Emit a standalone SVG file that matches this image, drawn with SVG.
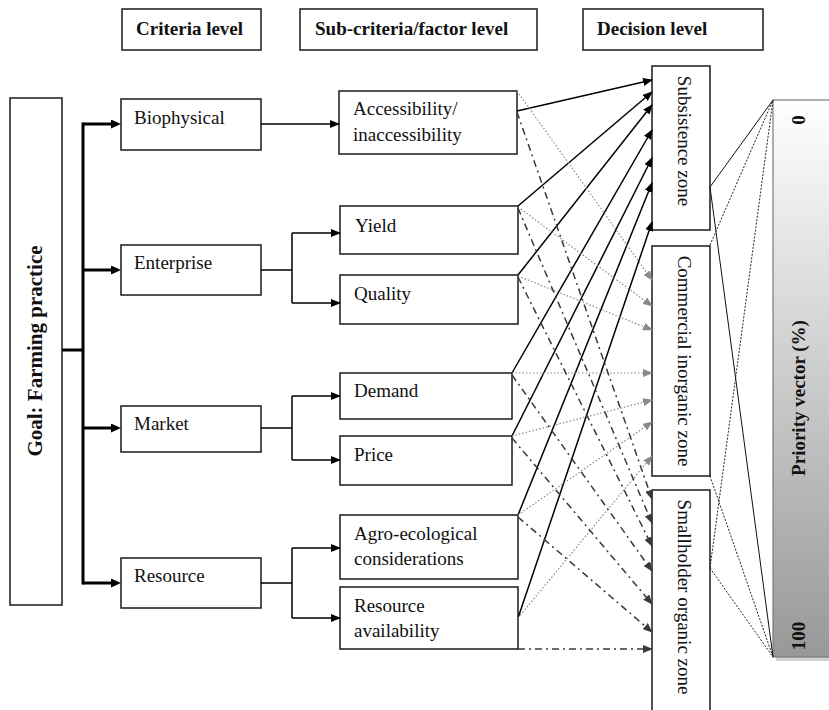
<svg xmlns="http://www.w3.org/2000/svg" width="829" height="710" viewBox="0 0 829 710">
<defs>
<style>
.box{fill:#fff;stroke:#1a1a1a;stroke-width:1.5}
.t{font-family:"Liberation Serif","Times New Roman",serif;font-size:19px;fill:#111}
.b{font-weight:bold}
.thick{stroke:#000;stroke-width:3;fill:none}
.thin{stroke:#000;stroke-width:1.5;fill:none}
.sol{stroke:#000;stroke-width:1.5;fill:none}
.dot{stroke:#8a8a8a;stroke-width:1.2;stroke-dasharray:1.5 2;fill:none}
.dd{stroke:#3a3a3a;stroke-width:1.5;stroke-dasharray:7 4 2 4;fill:none}
.pv{stroke:#111;stroke-width:1;fill:none}
.pvd{stroke:#222;stroke-width:1;stroke-dasharray:2 1.5;fill:none}
</style>
<marker id="akt" viewBox="0 0 10 9" refX="0" refY="4.5" markerWidth="10" markerHeight="9" orient="auto" markerUnits="userSpaceOnUse"><path d="M0,0L10,4.5L0,9z" fill="#000"/></marker>
<marker id="ak" viewBox="0 0 10 8" refX="9" refY="4" markerWidth="10" markerHeight="8" orient="auto" markerUnits="userSpaceOnUse"><path d="M0,0L10,4L0,8z" fill="#000"/></marker>
<marker id="ag" viewBox="0 0 10 8" refX="9" refY="4" markerWidth="10" markerHeight="8" orient="auto" markerUnits="userSpaceOnUse"><path d="M0,0L10,4L0,8z" fill="#8a8a8a"/></marker>
<marker id="ad" viewBox="0 0 10 8" refX="9" refY="4" markerWidth="10" markerHeight="8" orient="auto" markerUnits="userSpaceOnUse"><path d="M0,0L10,4L0,8z" fill="#3a3a3a"/></marker>
<linearGradient id="pvg" x1="0" y1="0" x2="0" y2="1"><stop offset="0" stop-color="#ffffff"/><stop offset="1" stop-color="#989898"/></linearGradient>
</defs>
<rect width="829" height="710" fill="#fff"/>

<g id="headers">
<g id="h-criteria"><rect class="box" x="122" y="9" width="139" height="41"/><text class="t b" x="136" y="35">Criteria level</text></g>
<g id="h-sub"><rect class="box" x="300" y="9" width="237" height="41"/><text class="t b" x="315" y="35">Sub-criteria/factor level</text></g>
<g id="h-decision"><rect class="box" x="583" y="9" width="180" height="41"/><text class="t b" x="597" y="35">Decision level</text></g>
</g>

<g id="goal"><rect class="box" x="10" y="98" width="52" height="507"/><text class="t b" font-size="21" style="font-size:21px" text-anchor="middle" transform="translate(42,351) rotate(-90)">Goal: Farming practice</text></g>

<g id="biophysical"><rect class="box" x="121" y="99" width="140" height="51"/><text class="t" x="134" y="124">Biophysical</text></g>
<g id="enterprise"><rect class="box" x="121" y="245" width="140" height="50"/><text class="t" x="134" y="269">Enterprise</text></g>
<g id="market"><rect class="box" x="121" y="406" width="140" height="46"/><text class="t" x="134" y="430">Market</text></g>
<g id="resource"><rect class="box" x="121" y="558" width="140" height="50"/><text class="t" x="134" y="582">Resource</text></g>

<g id="accessibility"><rect class="box" x="339" y="91" width="178" height="63"/><text class="t" x="353" y="115">Accessibility/</text><text class="t" x="353" y="141">inaccessibility</text></g>
<g id="yield"><rect class="box" x="340" y="206" width="178" height="48"/><text class="t" x="355" y="232">Yield</text></g>
<g id="quality"><rect class="box" x="340" y="275" width="178" height="49"/><text class="t" x="354" y="300">Quality</text></g>
<g id="demand"><rect class="box" x="340" y="373" width="172" height="46"/><text class="t" x="354" y="397">Demand</text></g>
<g id="price"><rect class="box" x="340" y="436" width="172" height="49"/><text class="t" x="354" y="461">Price</text></g>
<g id="agro"><rect class="box" x="340" y="515" width="178" height="64"/><text class="t" x="354" y="540">Agro-ecological</text><text class="t" x="354" y="565">considerations</text></g>
<g id="resavail"><rect class="box" x="340" y="587" width="178" height="62"/><text class="t" x="354" y="612">Resource</text><text class="t" x="354" y="637">availability</text></g>

<g id="subsistence"><rect class="box" x="652" y="66" width="58" height="164"/><text class="t" text-anchor="middle" transform="translate(678,141) rotate(90)">Subsistence zone</text></g>
<g id="commercial"><rect class="box" x="652" y="246" width="58" height="230"/><text class="t" text-anchor="middle" transform="translate(678,361) rotate(90)">Commercial inorganic zone</text></g>
<g id="smallholder"><rect class="box" x="652" y="490" width="58" height="228"/><text class="t" text-anchor="middle" transform="translate(678,597) rotate(90)">Smallholder organic zone</text></g>

<g id="priority">
<rect x="776" y="103" width="60" height="558" fill="#d0d0d0"/>
<rect x="773" y="100" width="60" height="557" fill="url(#pvg)" stroke="#7a7a7a" stroke-width="1.2"/>
<text class="t b" text-anchor="middle" transform="translate(805,120) rotate(-90)">0</text>
<text class="t b" text-anchor="middle" transform="translate(805,398) rotate(-90)">Priority vector (%)</text>
<text class="t b" text-anchor="middle" transform="translate(805,636) rotate(-90)">100</text>
</g>

<g id="connectors">
<path class="thick" d="M62,350H83M83,122.5V584.5"/>
<path class="thick" d="M83,124H111" marker-end="url(#akt)"/>
<path class="thick" d="M83,270H111" marker-end="url(#akt)"/>
<path class="thick" d="M83,428H111" marker-end="url(#akt)"/>
<path class="thick" d="M83,583H111" marker-end="url(#akt)"/>

<path class="thin" d="M261,124H339" marker-end="url(#ak)"/>
<path class="thin" d="M261,270H292M292,233V303"/>
<path class="thin" d="M292,233H340" marker-end="url(#ak)"/>
<path class="thin" d="M292,303H340" marker-end="url(#ak)"/>
<path class="thin" d="M261,428H292M292,396V460"/>
<path class="thin" d="M292,396H340" marker-end="url(#ak)"/>
<path class="thin" d="M292,460H340" marker-end="url(#ak)"/>
<path class="thin" d="M261,583H292M292,548V618"/>
<path class="thin" d="M292,548H340" marker-end="url(#ak)"/>
<path class="thin" d="M292,618H340" marker-end="url(#ak)"/>

<path class="sol" d="M517,111L652,80" marker-end="url(#ak)"/>
<path class="sol" d="M518,206L652,92" marker-end="url(#ak)"/>
<path class="sol" d="M518,275L652,105" marker-end="url(#ak)"/>
<path class="sol" d="M512,373L652,130" marker-end="url(#ak)"/>
<path class="sol" d="M512,436L652,158" marker-end="url(#ak)"/>
<path class="sol" d="M518,515L652,183" marker-end="url(#ak)"/>
<path class="sol" d="M518,618L652,222" marker-end="url(#ak)"/>

<path class="dot" d="M517,91L652,280" marker-end="url(#ag)"/>
<path class="dot" d="M518,207L652,306" marker-end="url(#ag)"/>
<path class="dot" d="M518,276L652,330" marker-end="url(#ag)"/>
<path class="dot" d="M512,373L652,373" marker-end="url(#ag)"/>
<path class="dot" d="M512,436L652,400" marker-end="url(#ag)"/>
<path class="dot" d="M518,515L652,422" marker-end="url(#ag)"/>
<path class="dot" d="M518,618L652,456" marker-end="url(#ag)"/>

<path class="dd" d="M517,112L652,499" marker-end="url(#ad)"/>
<path class="dd" d="M518,208L652,523" marker-end="url(#ad)"/>
<path class="dd" d="M518,277L652,546" marker-end="url(#ad)"/>
<path class="dd" d="M512,375L652,571" marker-end="url(#ad)"/>
<path class="dd" d="M512,438L652,604" marker-end="url(#ad)"/>
<path class="dd" d="M518,517L652,632" marker-end="url(#ad)"/>
<path class="dd" d="M518,649L652,649" marker-end="url(#ad)"/>

<path class="pv" d="M710,187L773,100M710,187L773,657"/>
<path class="pvd" d="M710,245L773,100M710,476L773,657M710,568L773,100M710,568L773,657"/>
</g>
</svg>
